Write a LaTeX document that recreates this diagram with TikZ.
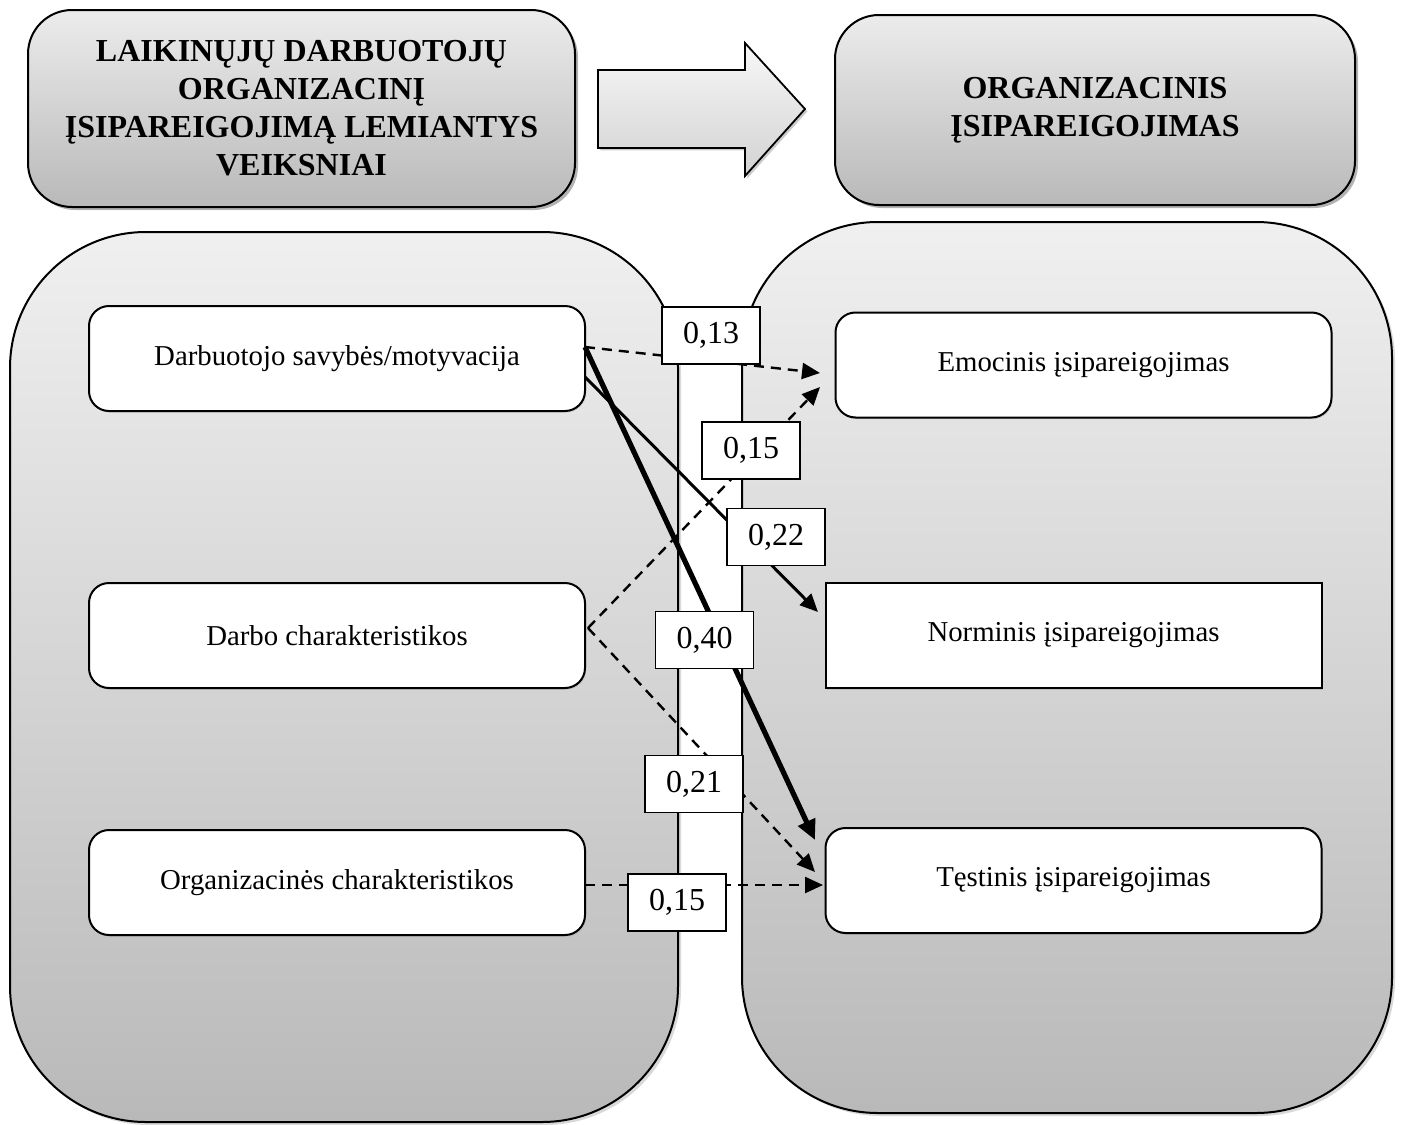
\documentclass[tikz,border=0pt]{standalone}
\usepackage{fontspec}
\setmainfont{Liberation Serif}
\usetikzlibrary{arrows.meta,shadows,calc}
\begin{document}
\begin{tikzpicture}[x=0.5pt,y=-0.5pt,
  bigbox/.style={draw=black, line width=1pt, rounded corners=68pt, top color=gray!12, bottom color=gray!55,
    drop shadow={opacity=0.3,shadow xshift=1.5pt,shadow yshift=-1.5pt}},
  titlebox/.style={draw=black, line width=1pt, rounded corners=22pt, top color=gray!15, bottom color=gray!55,
    drop shadow={opacity=0.6,shadow xshift=1.5pt,shadow yshift=-1.5pt},
    align=center, font=\bfseries\fontsize{16}{19}\selectfont, inner sep=0pt},
  itembox/.style={draw=black, line width=1pt, fill=white, rounded corners=10pt,
    minimum width=248pt, minimum height=52.5pt, inner sep=0pt, font=\fontsize{14.4}{17}\selectfont,
    drop shadow={opacity=0.25,shadow xshift=0.6pt,shadow yshift=-0.8pt}},
  valbox/.style={draw=black, line width=0.9pt, fill=white, minimum width=49pt, minimum height=28.5pt,
    inner sep=0pt, font=\fontsize{16}{19}\selectfont},
  dashcon/.style={line width=1.2pt, dash pattern=on 5pt off 3.5pt, -{Triangle[length=9pt,width=8pt]}},
  solidcon/.style={line width=1.5pt, -{Triangle[length=9pt,width=8pt]}},
  thickcon/.style={line width=2.6pt, -{Triangle[length=10pt,width=9pt]}}
]
\useasboundingbox (0,0) rectangle (1402,1124);

% top boxes
\node[titlebox, minimum width=273.5pt, minimum height=98.5pt] (t1) at (301.5,108.5)
  {LAIKINŲJŲ DARBUOTOJŲ\\ORGANIZACINĮ\\ĮSIPAREIGOJIMĄ LEMIANTYS\\VEIKSNIAI};
\node[titlebox, minimum width=260pt, minimum height=95pt] (t2) at (1095,110)
  {ORGANIZACINIS\\ĮSIPAREIGOJIMAS};

% block arrow
\draw[line width=0.9pt, top color=gray!6, bottom color=gray!35,
  drop shadow={opacity=0.4,shadow xshift=1.2pt,shadow yshift=-1.2pt}]
  (598,70) -- (745,70) -- (745,43) -- (805,109) -- (745,176) -- (745,148) -- (598,148) -- cycle;

% big boxes
\path[bigbox] (10,232) rectangle (678,1122);
\path[bigbox] (742,222) rectangle (1392,1113);

% item boxes
\node[itembox] (d1) at (337,358.5) {Darbuotojo savybės/motyvacija};
\node[itembox] (d2) at (337,635.5) {Darbo charakteristikos};
\node[itembox] (d3) at (337,882.5) {Organizacinės charakteristikos};
\node[itembox] (e1) at (1083.5,365) {Emocinis įsipareigojimas};
\node[itembox, rounded corners=0pt] (e2) at (1073.5,635.5) {Norminis įsipareigojimas};
\node[itembox] (e3) at (1073.5,880.5) {Tęstinis įsipareigojimas};

% connector endpoints
\coordinate (s1) at (585,347);
\coordinate (s2) at (585,377);
\coordinate (s3) at (588,628);
\coordinate (s4) at (585,885);
\coordinate (a1) at (820,373);
\coordinate (a2) at (820,387);
\coordinate (a3) at (818,612);
\coordinate (a4) at (815,840);
\coordinate (a5) at (815,872);
\coordinate (a6) at (823,885);

\draw[dashcon] (s1) -- (a1);
\draw[thickcon] (s1) -- (a4);
\draw[solidcon] (s2) -- (a3);
\draw[dashcon] (s3) -- (a2);
\draw[dashcon] (s3) -- (a5);
\draw[dashcon] (s4) -- (a6);

% value labels
\node[valbox] (v1) at (711,335.5) {0,13};
\node[valbox] (v2) at (751,450.5) {0,15};
\node[valbox] (v3) at (776,537) {0,22};
\node[valbox] (v4) at (704.5,640) {0,40};
\node[valbox] (v5) at (694,784) {0,21};
\node[valbox] (v6) at (677,902.5) {0,15};
\end{tikzpicture}
\end{document}
